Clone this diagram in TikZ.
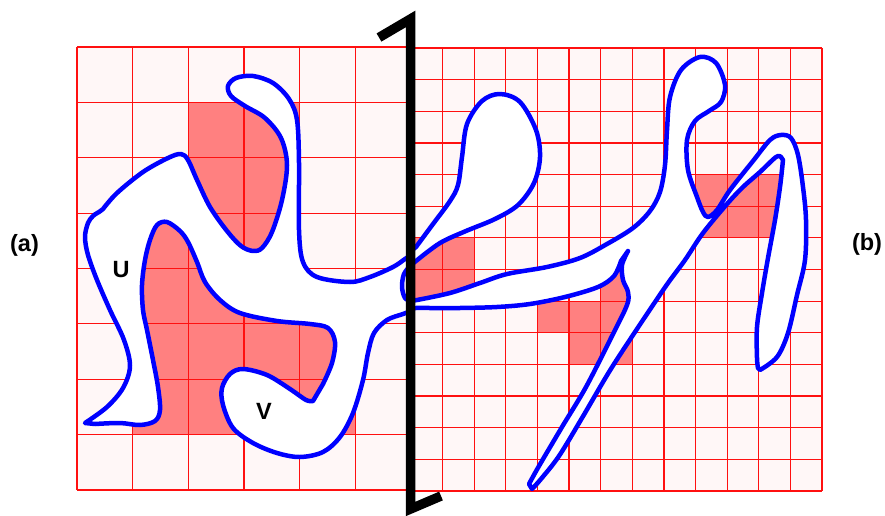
\documentclass[tikz,border=0pt]{standalone}
\usepackage{fontspec}
\setmainfont{Liberation Sans}
\definecolor{lightcell}{HTML}{FFF7F7}
\definecolor{darkcell}{HTML}{FF8080}
\definecolor{gridred}{HTML}{FF1010}
\definecolor{curveblue}{HTML}{0000FF}
\tikzset{
  gridline/.style={draw=gridred, line width=1.2pt},
  blobline/.style={draw=curveblue, fill=white, line width=4.5pt, line join=round, line cap=round},
  barline/.style={draw=black, line width=9.5pt, line join=miter},
  lbl/.style={inner sep=0pt, font=\bfseries\fontsize{23.5}{23.5}\selectfont}
}
\begin{document}
\begin{tikzpicture}[x=1pt,y=-1pt]
\useasboundingbox (0,0) rectangle (885,516);
\fill[white] (0,0) rectangle (885,516);
% ---- left grid (panel a)
\fill[lightcell] (77,47) rectangle (411,490);
\foreach \c/\r in {2/1,3/1,2/2,3/2,1/3,2/3,3/3,1/4,2/4,3/4,1/5,2/5,3/5,4/5,1/6,2/6,3/6,4/6}
  \fill[darkcell] ({77+\c*55.667},{47+\r*55.375}) rectangle +(55.667,55.375);
\foreach \i in {0,...,6} \draw[gridline] ({77+\i*55.667},47) -- ({77+\i*55.667},490);
\foreach \j in {0,...,8} \draw[gridline] (77,{47+\j*55.375}) -- (411,{47+\j*55.375});
% ---- right grid (panel b)
\fill[lightcell] (411,48) rectangle (822,491);
\foreach \c/\r in {0/6,1/6,0/7,1/7,6/7,4/8,5/8,6/8,5/9,6/9,9/4,10/4,11/4,9/5,10/5,11/5}
  \fill[darkcell] ({411+\c*31.615},{48+\r*31.643}) rectangle +(31.615,31.643);
\foreach \i in {0,...,13} \draw[gridline] ({411+\i*31.615},48) -- ({411+\i*31.615},491);
\foreach \j in {0,...,14} \draw[gridline] (411,{48+\j*31.643}) -- (822,{48+\j*31.643});
% ---- the outline
\filldraw[blobline]
  plot[smooth, tension=0.55] coordinates {(85,423) (107,407) (123,388) (130,366) (124,340) (110,310) (97,280) (88,255) (85,237) (88,223) (93,216) (99,212)}
  -- plot[smooth, tension=0.55] coordinates {(103,209) (117,193) (143,172) (168,158) (181,154) (188,160) (197,180) (210,207) (227,231) (241,246) (253,251) (262,248) (272,232) (282,200) (287,165) (281,138) (265,118) (245,106) (231,96) (228,86) (236,78) (253,76) (273,83) (289,99) (297,120) (299,163) (299,230) (303,262) (317,277) (350,282) (370,277) (393,267) (405,259) (411,255)}
  -- (411,251)
  -- plot[smooth, tension=0.55] coordinates {(416,247) (433,224) (450,201) (458,185) (462,157) (467,124) (482,101) (500,94) (520,102) (536,130) (540,157) (534,183) (518,205) (495,219) (466,231) (440,243) (416,261)}
  -- plot[smooth, tension=0.55] coordinates {(411,265) (404,274) (402,287) (405,298) (411,301)}
  -- plot[smooth, tension=0.55] coordinates {(417,300) (450,293) (480,283) (507,274) (547,267) (580,258) (607,244) (633,228) (650,211) (660,192) (665,165) (667,130) (670,97) (681,70) (700,57) (716,63) (725,85) (721,102) (709,111) (695,121) (687,140) (688,170) (697,197) (703,212) (708,217) (717,210) (730,190) (753,161) (770,140) (781,135) (791,138) (798,155) (803,187) (806,220) (805,260) (797,295) (788,333) (777,357) (760,370)}
  -- plot[smooth, tension=0.55] coordinates {(758,368) (757,358) (757,327) (762,293) (768,258) (775,220) (780,187) (783,160)}
  -- plot[smooth, tension=0.55] coordinates {(781,157) (776,157) (760,172) (743,187) (727,204) (703,233) (685,260) (668,283) (651,308) (633,335) (609,372) (582,418) (559,456) (541,479) (532,489)}
  -- plot[smooth, tension=0.55] coordinates {(529,484) (539,466) (562,427) (586,387) (612,336) (627,305) (628,292) (623,280) (622,265) (628,251)}
  -- plot[smooth, tension=0.55] coordinates {(621,261) (614,276) (598,287) (565,297) (530,304) (497,307) (460,308) (430,308) (416,308) (411,309)}
  -- plot[smooth, tension=0.55] coordinates {(411,311) (403,314) (387,320) (374,333) (368,353) (363,380) (353,413) (340,437) (323,452) (300,457) (277,453) (253,443) (233,428) (223,405) (222,388) (230,374) (243,369) (267,375) (290,389) (306,400) (313,401)}
  -- plot[smooth, tension=0.55] coordinates {(323,384) (332,363) (335,342) (328,328) (310,324) (277,321) (240,313) (220,300) (205,282) (197,262) (188,242) (180,231) (167,222) (157,225) (150,240) (145,260) (142,285) (143,310) (147,330) (153,360) (158,387) (160,410) (155,421) (140,425) (120,423) (95,424)}
  -- cycle;
% ---- the divider bar
\draw[barline] (379,37.5) -- (410.5,19) -- (410.5,509) -- (441,496);
% ---- labels
\node[lbl] (la) at (24.5,245) {(a)};
\node[lbl] (lb) at (867,244) {(b)};
\node[lbl] (lu) at (121,270) {U};
\node[lbl] (lv) at (264,411) {V};
\end{tikzpicture}
\end{document}
